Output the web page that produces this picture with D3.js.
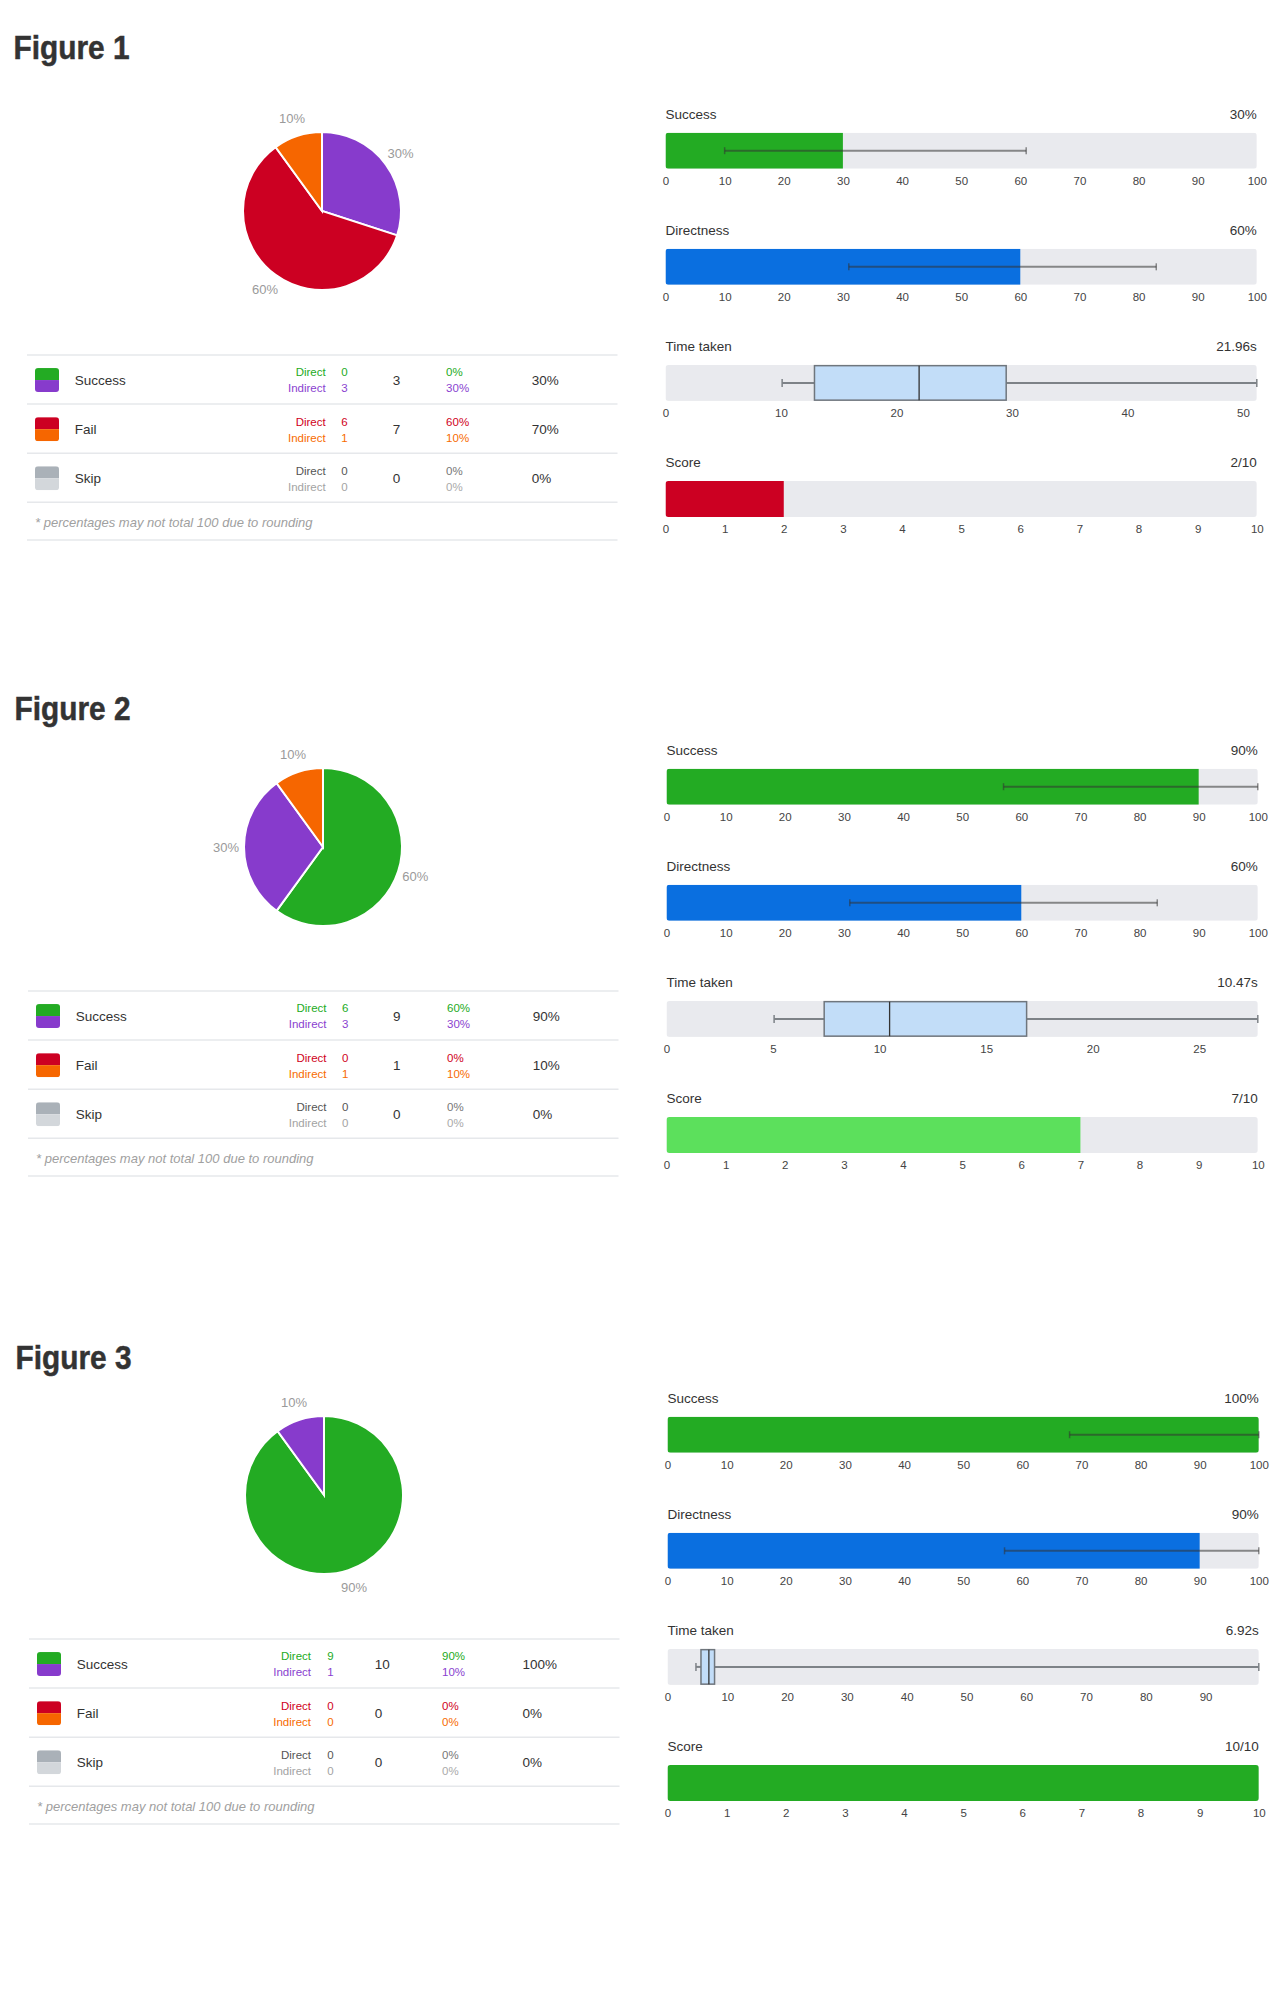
<!DOCTYPE html>
<html><head><meta charset="utf-8">
<script src="https://cdn.jsdelivr.net/npm/d3@7"></script>
<style>
body{margin:0;background:#fff}
text{font-family:"Liberation Sans",Arial,sans-serif}
</style>
</head><body>
<svg id="c" width="1286" height="2000"></svg>
<script>
// ---------------- DATA ----------------
const figureTitles = ["Figure 1", "Figure 2", "Figure 3"];
const outcomeNames = ["Success", "Fail", "Skip"];
const pathTypes = ["Direct", "Indirect"];
// counts per figure: [successDirect, successIndirect, failDirect, failIndirect, skipDirect, skipIndirect]
const sliceCounts = [
  [0, 3, 6, 1, 0, 0],
  [6, 3, 0, 1, 0, 0],
  [9, 1, 0, 0, 0, 0]
];
const successPct = [30, 90, 100];
const successCI = [[10, 61], [57, 100], [68, 100]];
const directnessPct = [60, 60, 90];
const directnessCI = [[31, 83], [31, 83], [57, 100]];
// time taken: [min, q1, median, q3, max]
const timeStats = [
  [10.1, 12.9, 21.96, 29.5, 51.2],
  [5.05, 7.4, 10.47, 16.9, 27.75],
  [4.76, 5.6, 6.92, 7.87, 98.9]
];
const timeTicks = [
  [0, 10, 20, 30, 40, 50],
  [0, 5, 10, 15, 20, 25],
  [0, 10, 20, 30, 40, 50, 60, 70, 80, 90]
];
const pctTicks = [0, 10, 20, 30, 40, 50, 60, 70, 80, 90, 100];
const scoreValues = [2, 7, 10];
const scoreMax = 10;
const scoreTicks = [0, 1, 2, 3, 4, 5, 6, 7, 8, 9, 10];
const footnote = "* percentages may not total 100 due to rounding";

// ---------------- STYLE / LAYOUT ----------------
const sliceColors = ["#23ab23", "#873bcc", "#cc0022", "#f66600", "#aab1b8", "#d3d7db"];
const labelColors = ["#23ab23", "#8a3fd0", "#d0021b", "#f76b00", "#555", "#a3a3a3"];
const pctColors   = ["#23ab23", "#8a3fd0", "#d0021b", "#f76b00", "#777", "#aaa"];
const scoreColor = d3.scaleThreshold().domain([5, 10]).range(["#cc0022", "#5ce05c", "#23ab23"]);
const figY = [0, 636, 1284];
const figX = [0, 1, 2];
const titleBase = [59.3, 84.2, 85.3];
const tableCols = [
  [325.7, 341.2, 392.7, 446.1, 531.8],
  [325.5, 341, 392, 446, 531.7],
  [309, 325.3, 372.7, 440, 520.4]
];
const textDark = "#333";

const svg = d3.select("#c");
const defs = svg.append("defs");
let clipId = 0;

figureTitles.forEach((title, f) => {
  const g = svg.append("g").attr("transform", `translate(${figX[f]},${figY[f]})`);
  const counts = sliceCounts[f];
  const total = d3.sum(counts);

  // Title
  g.append("text").attr("x", 13.5).attr("y", titleBase[f])
    .attr("font-family", "'Open Sans','Liberation Sans',sans-serif")
    .attr("font-weight", 800).attr("font-size", 33).attr("fill", "#333")
    .attr("stroke", "#333").attr("stroke-width", 0.5)
    .attr("textLength", 116).attr("lengthAdjust", "spacingAndGlyphs")
    .text(title);

  // ---------- Pie ----------
  const pieG = g.append("g").attr("transform", "translate(322,211)");
  const pie = d3.pie().sort(null).value(d => d)(counts);
  const arc = d3.arc().innerRadius(0).outerRadius(79);
  const labelArc = d3.arc().innerRadius(97).outerRadius(97);
  const nz = pie.filter(d => d.value > 0);
  pieG.selectAll("path").data(nz).join("path")
    .attr("d", arc).attr("fill", d => sliceColors[d.index])
    .attr("stroke", nz.length > 1 ? "#fff" : "none").attr("stroke-width", 2);
  pieG.selectAll("text").data(nz).join("text")
    .attr("transform", d => `translate(${labelArc.centroid(d)})`)
    .attr("text-anchor", "middle").attr("dominant-baseline", "central")
    .attr("font-size", 13).attr("fill", "#9a9a9a")
    .text(d => Math.round(d.value / total * 100) + "%");

  // ---------- Table ----------
  const tg = g.append("g");
  const rowTop = 355, rowH = 49.1;
  const lineYs = [0, 1, 2, 3].map(i => rowTop + i * rowH).concat([540]);
  tg.selectAll("line.sep").data(lineYs).join("line").attr("class", "sep")
    .attr("x1", 27).attr("x2", 617.5).attr("y1", d => d).attr("y2", d => d)
    .attr("stroke", "#e6e8eb").attr("stroke-width", 1.5);
  const cols = tableCols[f];
  outcomeNames.forEach((name, r) => {
    const cy = rowTop + rowH * r + rowH / 2 + 0.5;
    const rg = tg.append("g");
    const id = "sw" + (clipId++);
    defs.append("clipPath").attr("id", id).append("rect")
      .attr("x", 35).attr("y", cy - 12).attr("width", 24).attr("height", 24).attr("rx", 3);
    const sw = rg.append("g").attr("clip-path", `url(#${id})`);
    sw.append("rect").attr("x", 35).attr("y", cy - 12).attr("width", 24).attr("height", 12).attr("fill", sliceColors[r * 2]);
    sw.append("rect").attr("x", 35).attr("y", cy).attr("width", 24).attr("height", 12).attr("fill", sliceColors[r * 2 + 1]);
    rg.append("text").attr("x", 74.7).attr("y", cy + 4.8).attr("font-size", 13.5).attr("fill", textDark).text(name);
    pathTypes.forEach((p, j) => {
      const k = r * 2 + j;
      const by = cy - 3.6 + j * 16;
      rg.append("text").attr("x", cols[0]).attr("y", by).attr("text-anchor", "end")
        .attr("font-size", 11.5).attr("fill", labelColors[k]).text(p);
      rg.append("text").attr("x", cols[1]).attr("y", by)
        .attr("font-size", 11.5).attr("fill", labelColors[k]).text(counts[k]);
      rg.append("text").attr("x", cols[3]).attr("y", by)
        .attr("font-size", 11.5).attr("fill", pctColors[k]).text(Math.round(counts[k] / total * 100) + "%");
    });
    const sub = counts[r * 2] + counts[r * 2 + 1];
    rg.append("text").attr("x", cols[2]).attr("y", cy + 4.8).attr("font-size", 13.5).attr("fill", textDark).text(sub);
    rg.append("text").attr("x", cols[4]).attr("y", cy + 4.8).attr("font-size", 13.5).attr("fill", textDark)
      .text(Math.round(sub / total * 100) + "%");
  });
  tg.append("text").attr("x", 35).attr("y", 527).attr("font-size", 13).attr("font-style", "italic")
    .attr("fill", "#a0a0a0").text(footnote);

  // ---------- Right panels ----------
  const x0 = 665.5, x1 = 1256.8, barH = 36;
  const panels = [
    { title: "Success", value: successPct[f] + "%", kind: "bar", domain: [0, 100], v: successPct[f], color: "#23ab23", ci: successCI[f], ticks: pctTicks },
    { title: "Directness", value: directnessPct[f] + "%", kind: "bar", domain: [0, 100], v: directnessPct[f], color: "#0a6fe0", ci: directnessCI[f], ticks: pctTicks },
    { title: "Time taken", value: d3.format(".2f")(timeStats[f][2]) + "s", kind: "box", domain: [0, timeStats[f][4]], stats: timeStats[f], ticks: timeTicks[f] },
    { title: "Score", value: scoreValues[f] + "/" + scoreMax, kind: "bar", domain: [0, scoreMax], v: scoreValues[f], color: scoreColor(scoreValues[f]), ticks: scoreTicks }
  ];
  panels.forEach((p, k) => {
    const top = 132.7 + k * 116.1;
    const pg = g.append("g");
    const x = d3.scaleLinear().domain(p.domain).range([x0, x1]);
    pg.append("text").attr("x", x0).attr("y", top - 14).attr("font-size", 13.5).attr("fill", textDark).text(p.title);
    pg.append("text").attr("x", x1).attr("y", top - 14).attr("text-anchor", "end").attr("font-size", 13.5).attr("fill", textDark).text(p.value);
    const id = "pc" + (clipId++);
    defs.append("clipPath").attr("id", id).append("rect")
      .attr("x", x0).attr("y", top).attr("width", x1 - x0).attr("height", barH).attr("rx", 3);
    const cg = pg.append("g").attr("clip-path", `url(#${id})`);
    cg.append("rect").attr("x", x0).attr("y", top).attr("width", x1 - x0).attr("height", barH).attr("fill", "#e9eaee");
    const cy = top + barH / 2;
    if (p.kind === "bar") {
      cg.append("rect").attr("x", x(0)).attr("y", top).attr("width", x(p.v) - x(0)).attr("height", barH).attr("fill", p.color);
      if (p.ci) {
        const eg = pg.append("g").attr("stroke", "#333").attr("stroke-opacity", 0.55).attr("stroke-width", 2);
        eg.append("line").attr("x1", x(p.ci[0])).attr("x2", x(p.ci[1])).attr("y1", cy).attr("y2", cy);
        p.ci.forEach(c => eg.append("line").attr("x1", x(c)).attr("x2", x(c)).attr("y1", cy - 3.5).attr("y2", cy + 3.5).attr("stroke-width", 1.5));
      }
    } else {
      const [mn, q1, md, q3, mx] = p.stats;
      const wg = pg.append("g").attr("stroke", "#7d8287").attr("stroke-width", 2);
      wg.append("line").attr("x1", x(mn)).attr("x2", x(q1)).attr("y1", cy).attr("y2", cy);
      wg.append("line").attr("x1", x(q3)).attr("x2", x(mx)).attr("y1", cy).attr("y2", cy);
      [mn, mx].forEach(c => wg.append("line").attr("x1", x(c)).attr("x2", x(c)).attr("y1", cy - 4).attr("y2", cy + 4).attr("stroke-width", 1.5));
      pg.append("rect").attr("x", x(q1)).attr("y", top + 0.75).attr("width", x(q3) - x(q1)).attr("height", barH - 1.5)
        .attr("fill", "#c2ddf8").attr("stroke", "#6f767d").attr("stroke-width", 1.5);
      pg.append("line").attr("x1", x(md)).attr("x2", x(md)).attr("y1", top + 0.75).attr("y2", top + barH - 0.75)
        .attr("stroke", "#333").attr("stroke-width", 1.3);
    }
    const axis = d3.axisBottom(x).tickValues(p.ticks).tickSize(0).tickPadding(8).tickFormat(d3.format("d"));
    const ag = pg.append("g").attr("transform", `translate(0,${top + barH})`).call(axis);
    ag.select(".domain").remove();
    ag.selectAll("text").attr("font-size", 11.5).attr("fill", "#444")
      .attr("font-family", "'Liberation Sans',Arial,sans-serif");
  });
});
</script>
</body></html>
